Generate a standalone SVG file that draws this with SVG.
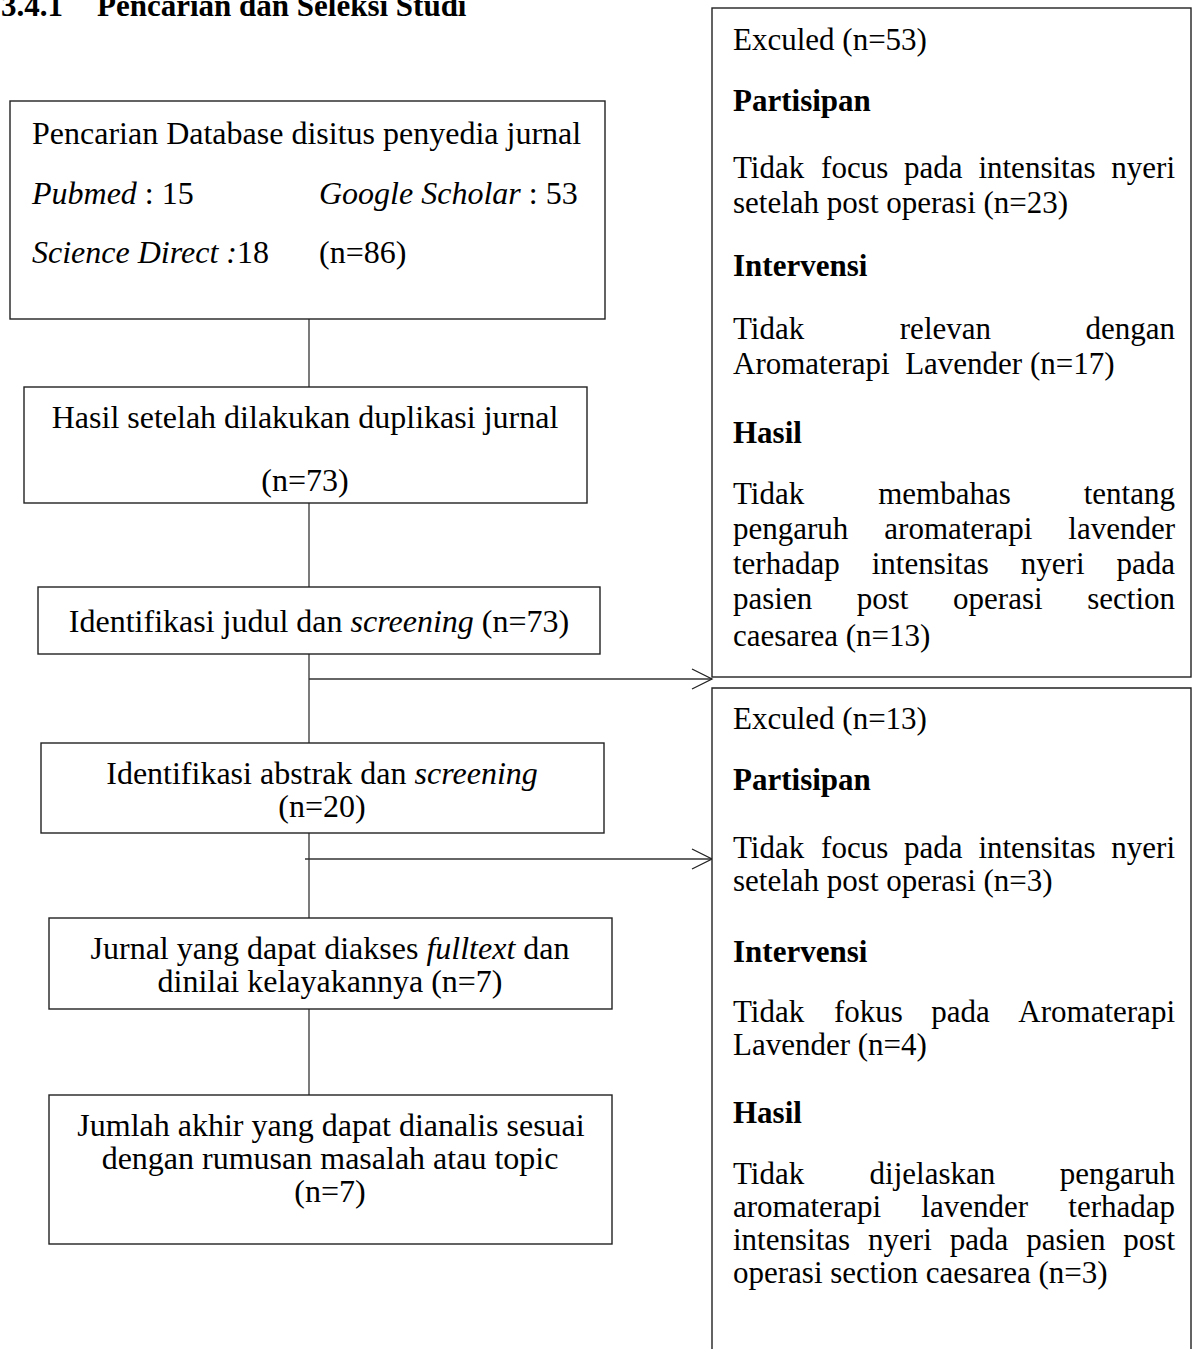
<svg xmlns="http://www.w3.org/2000/svg" width="1199" height="1349" viewBox="0 0 1199 1349">
<defs>
<style>
.t{font-family:"Liberation Serif","Times New Roman",serif;font-size:31px;fill:#000}
.L{font-size:32px}
.b{font-weight:bold}
.i{font-style:italic}
.m{text-anchor:middle}
.e{text-anchor:end}
.box{fill:#fff;stroke:#222;stroke-width:1.4}
.ln{stroke:#333;stroke-width:1.3;fill:none}
</style>
<marker id="arr" markerUnits="userSpaceOnUse" markerWidth="24" markerHeight="24" refX="21" refY="11" orient="auto" viewBox="0 0 24 24">
<path d="M1,1 L21,11 L1,21" fill="none" stroke="#222" stroke-width="1.3"/>
</marker>
</defs>
<rect width="1199" height="1349" fill="#fff"/>
<g id="title">
<text class="t b" x="1" y="16">3.4.1</text>
<text class="t b" x="97" y="16">Pencarian dan Seleksi Studi</text>
</g>
<g id="connectors">
<line class="ln" x1="309" y1="319" x2="309" y2="387"/>
<line class="ln" x1="309" y1="503" x2="309" y2="587"/>
<line class="ln" x1="309" y1="654" x2="309" y2="743"/>
<line class="ln" x1="309" y1="833" x2="309" y2="918"/>
<line class="ln" x1="309" y1="1009" x2="309" y2="1095"/>
<line class="ln" x1="309" y1="679" x2="712" y2="679" marker-end="url(#arr)"/>
<line class="ln" x1="305" y1="859" x2="712" y2="859" marker-end="url(#arr)"/>
</g>
<g id="n1">
<rect class="box" x="10" y="101" width="595" height="218"/>
<text class="t L" x="32" y="144">Pencarian Database disitus penyedia jurnal</text>
<text class="t L" x="32" y="204"><tspan class="i">Pubmed</tspan> : 15</text>
<text class="t L" x="319" y="204"><tspan class="i">Google Scholar</tspan> : 53</text>
<text class="t L" x="32" y="263"><tspan class="i">Science Direct :</tspan>18</text>
<text class="t L" x="319" y="263">(n=86)</text>
</g>
<g id="n2">
<rect class="box" x="24" y="387" width="563" height="116"/>
<text class="t L m" x="305" y="428">Hasil setelah dilakukan duplikasi jurnal</text>
<text class="t L m" x="305" y="491">(n=73)</text>
</g>
<g id="n3">
<rect class="box" x="38" y="587" width="562" height="67"/>
<text class="t L m" x="319" y="632">Identifikasi judul dan <tspan class="i">screening</tspan> (n=73)</text>
</g>
<g id="n4">
<rect class="box" x="41" y="743" width="563" height="90"/>
<text class="t L m" x="322" y="784">Identifikasi abstrak dan <tspan class="i">screening</tspan></text>
<text class="t L m" x="322" y="817">(n=20)</text>
</g>
<g id="n5">
<rect class="box" x="49" y="918" width="563" height="91"/>
<text class="t L m" x="330" y="959">Jurnal yang dapat diakses <tspan class="i">fulltext</tspan> dan</text>
<text class="t L m" x="330" y="992">dinilai kelayakannya (n=7)</text>
</g>
<g id="n6">
<rect class="box" x="49" y="1095" width="563" height="149"/>
<text class="t L m" x="331" y="1136">Jumlah akhir yang dapat dianalis sesuai</text>
<text class="t L m" x="330" y="1169">dengan rumusan masalah atau topic</text>
<text class="t L m" x="330" y="1202">(n=7)</text>
</g>
<g id="excl1">
<rect class="box" x="712" y="8" width="479" height="669"/>
<text class="t" x="733" y="50">Exculed (n=53)</text>
<text class="t b" x="733" y="111">Partisipan</text>
<text class="t" y="178"><tspan x="733">Tidak</tspan><tspan x="821.1">focus</tspan><tspan x="904">pada</tspan><tspan x="978.4">intensitas</tspan></text>
<text class="t e" x="1175" y="178">nyeri</text>
<text class="t" x="733" y="213">setelah post operasi (n=23)</text>
<text class="t b" x="733" y="276">Intervensi</text>
<text class="t" y="339"><tspan x="733">Tidak</tspan><tspan x="899.8">relevan</tspan></text>
<text class="t e" x="1175" y="339">dengan</text>
<text class="t" x="733" y="374" xml:space="preserve">Aromaterapi  Lavender (n=17)</text>
<text class="t b" x="733" y="443">Hasil</text>
<text class="t" y="504"><tspan x="733">Tidak</tspan><tspan x="878.2">membahas</tspan></text>
<text class="t e" x="1175" y="504">tentang</text>
<text class="t" y="539"><tspan x="733">pengaruh</tspan><tspan x="884.3">aromaterapi</tspan></text>
<text class="t e" x="1175" y="539">lavender</text>
<text class="t" y="574"><tspan x="733">terhadap</tspan><tspan x="871.7">intensitas</tspan><tspan x="1020.8">nyeri</tspan></text>
<text class="t e" x="1175" y="574">pada</text>
<text class="t" y="609"><tspan x="733">pasien</tspan><tspan x="856.8">post</tspan><tspan x="953.1">operasi</tspan></text>
<text class="t e" x="1175" y="609">section</text>
<text class="t" x="733" y="646">caesarea (n=13)</text>
</g>
<g id="excl2">
<path class="box" d="M712,1352 L712,688 L1191,688 L1191,1352"/>
<text class="t" x="733" y="729">Exculed (n=13)</text>
<text class="t b" x="733" y="790">Partisipan</text>
<text class="t" y="858"><tspan x="733">Tidak</tspan><tspan x="821.1">focus</tspan><tspan x="904">pada</tspan><tspan x="978.4">intensitas</tspan></text>
<text class="t e" x="1175" y="858">nyeri</text>
<text class="t" x="733" y="891">setelah post operasi (n=3)</text>
<text class="t b" x="733" y="962">Intervensi</text>
<text class="t" y="1022"><tspan x="733">Tidak</tspan><tspan x="833.9">fokus</tspan><tspan x="931.3">pada</tspan></text>
<text class="t e" x="1175" y="1022">Aromaterapi</text>
<text class="t" x="733" y="1055">Lavender (n=4)</text>
<text class="t b" x="733" y="1123">Hasil</text>
<text class="t" y="1184"><tspan x="733">Tidak</tspan><tspan x="869.6">dijelaskan</tspan></text>
<text class="t e" x="1175" y="1184">pengaruh</text>
<text class="t" y="1217"><tspan x="733">aromaterapi</tspan><tspan x="921.3">lavender</tspan></text>
<text class="t e" x="1175" y="1217">terhadap</text>
<text class="t" y="1250"><tspan x="733">intensitas</tspan><tspan x="868.1">nyeri</tspan><tspan x="949.7">pada</tspan><tspan x="1026.2">pasien</tspan></text>
<text class="t e" x="1175" y="1250">post</text>
<text class="t" x="733" y="1283">operasi section caesarea (n=3)</text>
</g>
</svg>
